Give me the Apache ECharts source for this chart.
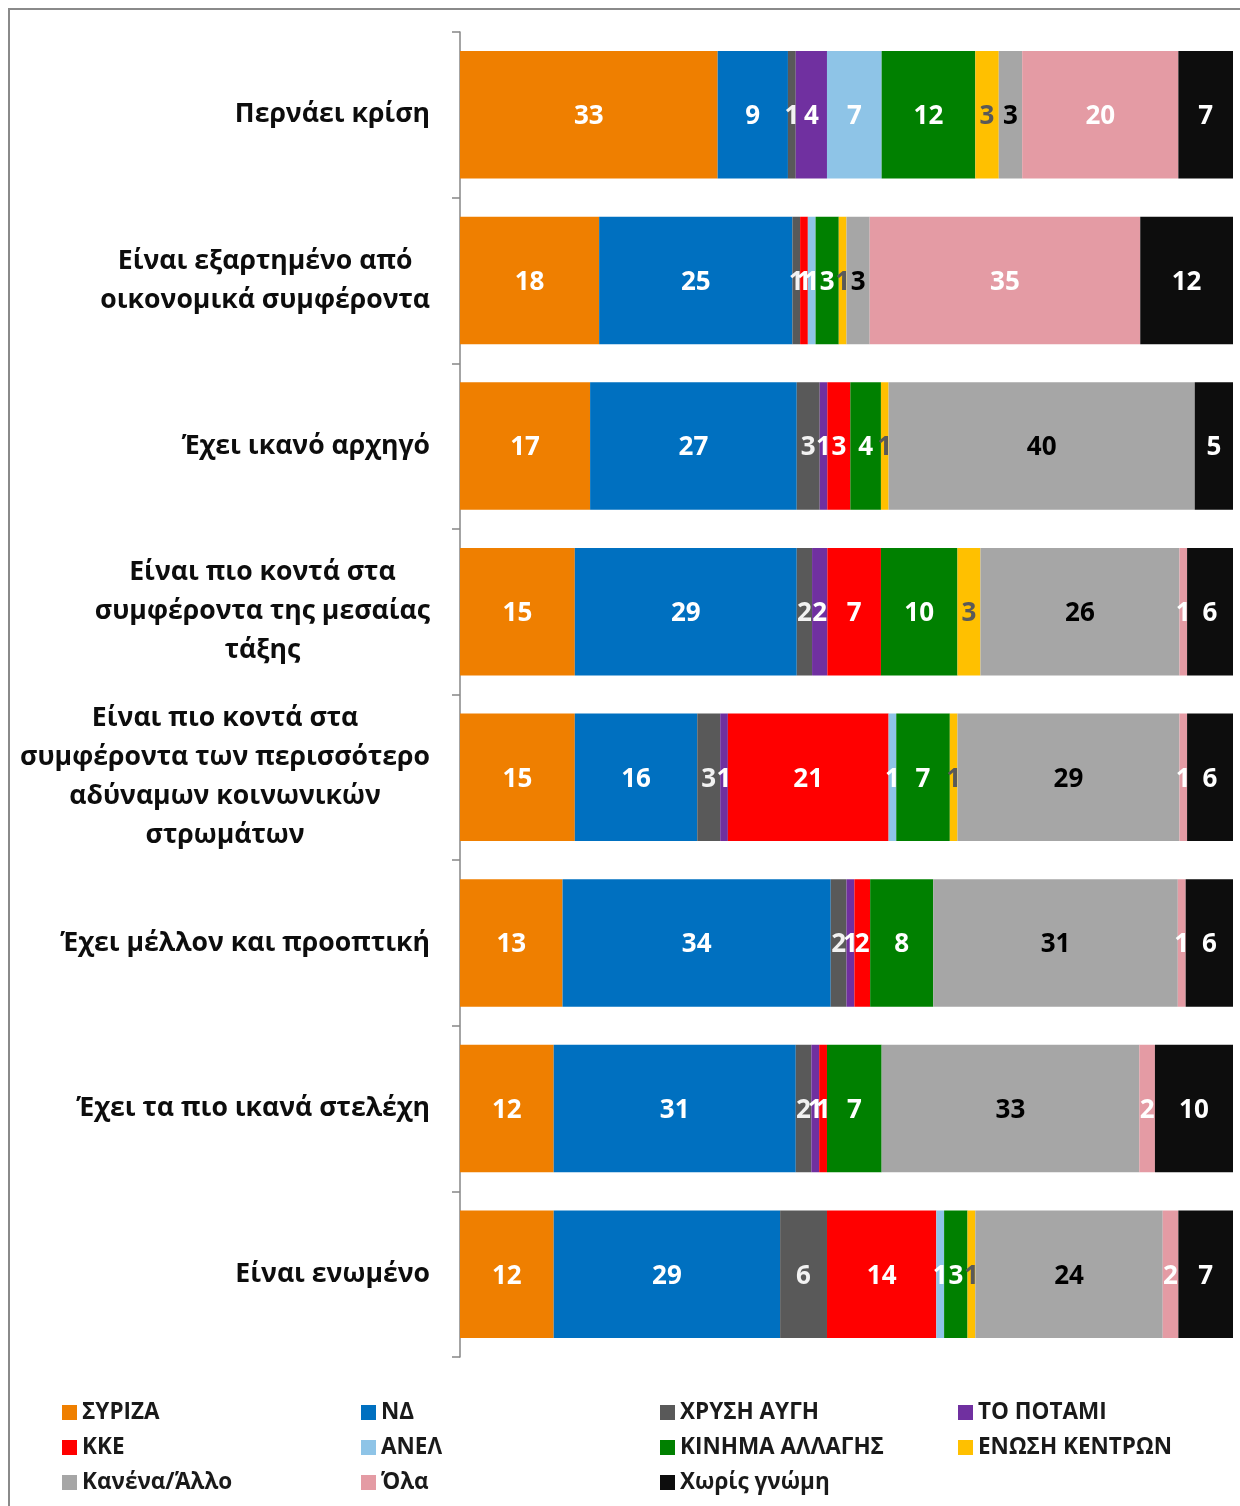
<!DOCTYPE html>
<html>
<head>
<meta charset="utf-8">
<script src="https://cdn.jsdelivr.net/npm/echarts@6/dist/echarts.min.js"></script>
<style>
html,body{margin:0;padding:0;background:#fff;}
#chart{width:1240px;height:1506px;}
</style>
</head>
<body>
<div id="chart"></div>
<script>
const categories = [
  "Περνάει κρίση",
  "Είναι εξαρτημένο από\nοικονομικά συμφέροντα",
  "Έχει ικανό αρχηγό",
  "Είναι πιο κοντά στα\nσυμφέροντα της μεσαίας\nτάξης",
  "Είναι πιο κοντά στα\nσυμφέροντα των περισσότερο\nαδύναμων κοινωνικών\nστρωμάτων",
  "Έχει μέλλον και προοπτική",
  "Έχει τα πιο ικανά στελέχη",
  "Είναι ενωμένο"
];
const seriesNames = ["ΣΥΡΙΖΑ","ΝΔ","ΧΡΥΣΗ ΑΥΓΗ","ΤΟ ΠΟΤΑΜΙ","ΚΚΕ","ΑΝΕΛ","ΚΙΝΗΜΑ ΑΛΛΑΓΗΣ","ΕΝΩΣΗ ΚΕΝΤΡΩΝ","Κανένα/Άλλο","Όλα","Χωρίς γνώμη"];
const syriza   = [33, 18, 17, 15, 15, 13, 12, 12];
const nd       = [ 9, 25, 27, 29, 16, 34, 31, 29];
const xa       = [ 1,  1,  3,  2,  3,  2,  2,  6];
const potami   = [ 4,  0,  1,  2,  1,  1,  1,  0];
const kke      = [ 0,  1,  3,  7, 21,  2,  1, 14];
const anel     = [ 7,  1,  0,  0,  1,  0,  0,  1];
const kinal    = [12,  3,  4, 10,  7,  8,  7,  3];
const ek       = [ 3,  1,  1,  3,  1,  0,  0,  1];
const kanena   = [ 3,  3, 40, 26, 29, 31, 33, 24];
const ola      = [20, 35,  0,  1,  1,  1,  2,  2];
const xoris    = [ 7, 12,  5,  6,  6,  6, 10,  7];

const allData = [syriza, nd, xa, potami, kke, anel, kinal, ek, kanena, ola, xoris];
const colors = ["#EF7F00","#0070C0","#595959","#7030A0","#FF0000","#8EC4E7","#008000","#FFC000","#A6A6A6","#E49BA4","#0D0D0D"];
const labelColors = ["#fff","#fff","#f2f2f2","#fff","#fff","#fff","#fff","#595959","#000","#fff","#fff"];

const FONT = "Open Sans";
const totals = categories.map((c, i) => allData.reduce((s, arr) => s + arr[i], 0));

const series = seriesNames.map((name, si) => ({
  name: name,
  type: 'bar',
  stack: 'total',
  barCategoryGap: '23%',
  itemStyle: { color: colors[si] },
  label: {
    show: true,
    position: 'inside',
    color: labelColors[si],
    fontFamily: FONT,
    fontWeight: 'bold',
    fontSize: 26,
    offset: [0, 2],
    formatter: p => (p.data.raw ? String(p.data.raw) : '')
  },
  emphasis: { disabled: true },
  data: allData[si].map((v, i) => ({ value: v / totals[i] * 100, raw: v }))
}));

const legendText = { fontFamily: FONT, fontWeight: 'bold', fontSize: 22.5, color: '#1a1a1a', lineHeight: 20 };
const legendCols = [
  { left: 57, names: ["ΣΥΡΙΖΑ","ΚΚΕ","Κανένα/Άλλο"] },
  { left: 356, names: ["ΝΔ","ΑΝΕΛ","Όλα"] },
  { left: 655, names: ["ΧΡΥΣΗ ΑΥΓΗ","ΚΙΝΗΜΑ ΑΛΛΑΓΗΣ","Χωρίς γνώμη"] },
  { left: 953, names: ["ΤΟ ΠΟΤΑΜΙ","ΕΝΩΣΗ ΚΕΝΤΡΩΝ"] }
];

const chart = echarts.init(document.getElementById('chart'), null, { renderer: 'canvas' });
chart.setOption({
  animation: false,
  backgroundColor: '#fff',
  color: colors,
  graphic: [{
    type: 'rect',
    shape: { x: 9, y: 9, width: 1400, height: 1700 },
    style: { fill: null, stroke: '#8a8a8a', lineWidth: 2 },
    silent: true
  }],
  grid: { left: 460, right: 7, top: 32, bottom: 149, containLabel: false },
  xAxis: {
    type: 'value', min: 0, max: 100,
    show: false
  },
  yAxis: {
    type: 'category',
    inverse: true,
    data: categories,
    axisLine: { show: true, lineStyle: { color: '#868686', width: 1.5 } },
    axisTick: { show: true, length: 8, lineStyle: { color: '#868686', width: 1.5 } },
    axisLabel: {
      margin: 30,
      align: 'right',
      formatter: v => v.split('\n').map(l => '{c|' + l + '}').join('\n'),
      rich: {
        c: { align: 'center', fontFamily: FONT, fontWeight: 'bold', fontSize: 26.6, lineHeight: 39, color: '#0d0d0d' }
      }
    }
  },
  legend: legendCols.map(col => ({
    orient: 'vertical',
    left: col.left,
    top: 1396,
    itemWidth: 15,
    itemHeight: 15,
    itemGap: 12,
    icon: 'rect',
    textStyle: legendText,
    data: col.names,
    selectedMode: false
  })),
  series: series
});
</script>
</body>
</html>
